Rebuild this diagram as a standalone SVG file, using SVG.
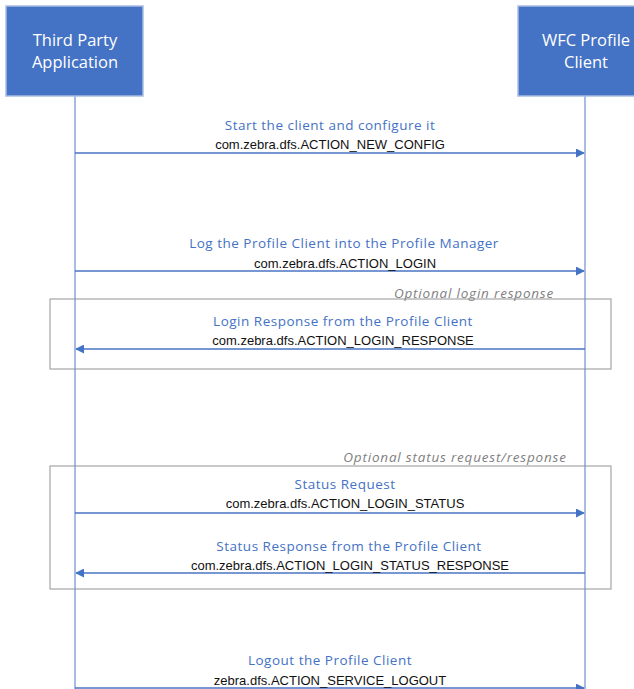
<svg xmlns="http://www.w3.org/2000/svg" width="634" height="689" viewBox="0 0 634 689">
<style>
.box{fill:#4472C4;stroke:#A9BDE3;stroke-width:1.5}
.bt{font-family:"Open Sans","Liberation Sans",sans-serif;font-size:16.5px;fill:#fff;text-anchor:middle}
.life{stroke:#6F8FCF;stroke-width:1.2;fill:none}
.msg{stroke:#4A74C4;stroke-width:1.3;fill:none}
.lbl{font-family:"Open Sans","Liberation Sans",sans-serif;font-size:13.5px;letter-spacing:0.5px;fill:#4472C4;text-anchor:middle}
.code{font-family:"Liberation Sans",sans-serif;font-size:13px;fill:#111;text-anchor:middle}
.opt{font-family:"Open Sans","Liberation Sans",sans-serif;font-size:13.5px;letter-spacing:0.8px;fill:#7F7F7F;font-style:italic;text-anchor:middle}
.frame{fill:none;stroke:#A6A6A6;stroke-width:1.2}
</style>
<defs>
<marker id="ah" viewBox="0 0 10 10" refX="9" refY="5" markerWidth="9" markerHeight="9" markerUnits="userSpaceOnUse" orient="auto">
<path d="M0,0 L10,5 L0,10 z" fill="#4472C4"/>
</marker>
</defs>
<rect width="634" height="689" fill="#fff"/>
<g id="frames">
<rect class="frame" x="50" y="299" width="561" height="70"/>
<rect class="frame" x="50" y="466" width="561" height="123"/>
<text class="opt" x="474" y="298">Optional login response</text>
<text class="opt" x="455" y="462">Optional status request/response</text>
</g>
<g id="lifelines">
<line class="life" x1="75" y1="96" x2="75" y2="689"/>
<line class="life" x1="585" y1="96" x2="585" y2="689"/>
</g>
<g id="node-third-party">
<rect class="box" x="6" y="6" width="137" height="90"/>
<text class="bt" x="75" y="46">Third Party</text>
<text class="bt" x="75" y="68">Application</text>
</g>
<g id="node-wfc">
<rect class="box" x="518" y="6" width="137" height="90"/>
<text class="bt" x="586" y="46">WFC Profile</text>
<text class="bt" x="586" y="68">Client</text>
</g>
<g id="connectors">
<line class="msg" x1="75" y1="153" x2="584" y2="153" marker-end="url(#ah)"/>
<line class="msg" x1="75" y1="271" x2="584" y2="271" marker-end="url(#ah)"/>
<line class="msg" x1="585" y1="349" x2="76" y2="349" marker-end="url(#ah)"/>
<line class="msg" x1="75" y1="513" x2="584" y2="513" marker-end="url(#ah)"/>
<line class="msg" x1="585" y1="573" x2="76" y2="573" marker-end="url(#ah)"/>
<line class="msg" x1="75" y1="688" x2="584" y2="688" marker-end="url(#ah)"/>
</g>
<g id="labels">
<text class="lbl" x="330" y="130">Start the client and configure it</text>
<text class="code" x="330" y="149">com.zebra.dfs.ACTION_NEW_CONFIG</text>
<text class="lbl" x="344" y="248">Log the Profile Client into the Profile Manager</text>
<text class="code" x="345" y="268">com.zebra.dfs.ACTION_LOGIN</text>
<text class="lbl" x="343" y="326">Login Response from the Profile Client</text>
<text class="code" x="343" y="345">com.zebra.dfs.ACTION_LOGIN_RESPONSE</text>
<text class="lbl" x="345" y="489">Status Request</text>
<text class="code" x="345" y="508">com.zebra.dfs.ACTION_LOGIN_STATUS</text>
<text class="lbl" x="349" y="551">Status Response from the Profile Client</text>
<text class="code" x="350" y="570">com.zebra.dfs.ACTION_LOGIN_STATUS_RESPONSE</text>
<text class="lbl" x="330" y="665">Logout the Profile Client</text>
<text class="code" x="330" y="685">zebra.dfs.ACTION_SERVICE_LOGOUT</text>
</g>
</svg>
